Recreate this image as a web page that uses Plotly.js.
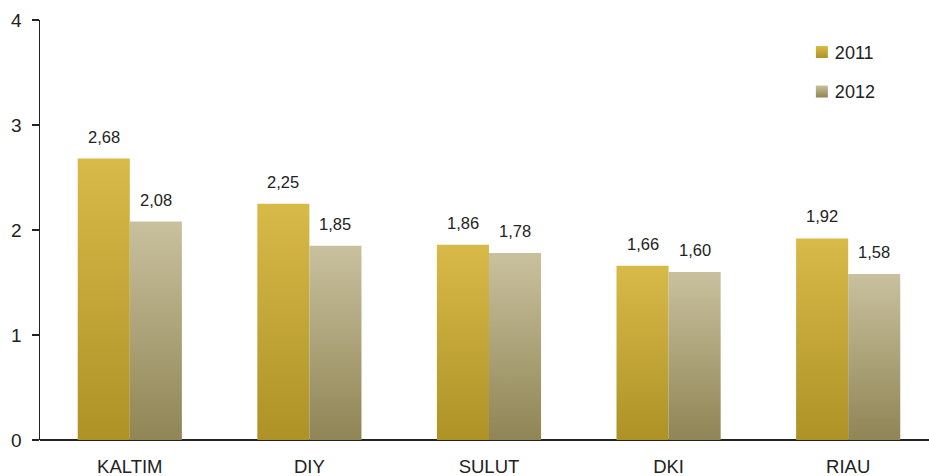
<!DOCTYPE html>
<html>
<head>
<meta charset="utf-8">
<script src="https://cdn.plot.ly/plotly-3.0.1.min.js"></script>
<style>html,body{margin:0;padding:0;background:#fff;}#chart{width:929px;height:476px;}</style>
</head>
<body>
<div id="chart"></div>
<script>
const categories = ['KALTIM', 'DIY', 'SULUT', 'DKI', 'RIAU'];
const values2011 = [2.68, 2.25, 1.86, 1.66, 1.92];
const values2012 = [2.08, 1.85, 1.78, 1.60, 1.58];
const seriesNames = ['2011', '2012'];
const yTicks = [0, 1, 2, 3, 4];

const FONT = 'Liberation Sans, Arial, sans-serif';
const fmt = v => v.toFixed(2).replace('.', ',');

const traces = [
  {type: 'bar', name: seriesNames[0], x: categories, y: values2011, legendgroup: 'a',
   marker: {color: '#c4a63a', line: {width: 0}}, hoverinfo: 'none'},
  {type: 'bar', name: seriesNames[1], x: categories, y: values2012, legendgroup: 'b',
   marker: {color: '#aea47a', line: {width: 0}}, hoverinfo: 'none'}
];

const annotations = [];
[values2011, values2012].forEach((vals, s) => {
  vals.forEach((v, i) => {
    annotations.push({x: categories[i], y: v, xref: 'x', yref: 'y', text: fmt(v),
      showarrow: false, yanchor: 'bottom', xanchor: 'center', xshift: s === 0 ? -26 : 26, yshift: 11,
      font: {family: FONT, size: 16.5, color: '#222'}});
  });
});

const layout = {
  width: 929, height: 476,
  margin: {l: 40, r: 0, t: 20, b: 36},
  paper_bgcolor: '#fff', plot_bgcolor: '#fff',
  barmode: 'group', bargap: 0.42, bargroupgap: 0,
  font: {family: FONT, size: 18, color: '#222'},
  xaxis: {type: 'category', range: [-0.5, 4.45], showgrid: false, zeroline: false,
    showline: false, ticks: '', tickfont: {family: FONT, size: 18.5, color: '#222'},
    ticklabelstandoff: 13, fixedrange: true},
  yaxis: {range: [0, 4], tickvals: yTicks, ticktext: yTicks.map(String), showgrid: false,
    zeroline: true, zerolinecolor: '#222', zerolinewidth: 1.5,
    showline: true, linecolor: '#222', linewidth: 1.5, ticks: 'outside', ticklen: 7,
    tickcolor: '#222', tickwidth: 1.5, tickfont: {family: FONT, size: 19, color: '#222'},
    ticklabelstandoff: 6, fixedrange: true},
  showlegend: true,
  legend: {x: 0.857, y: 0.967, xanchor: 'left', yanchor: 'top', bgcolor: 'rgba(0,0,0,0)',
    font: {family: FONT, size: 18, color: '#222'}, traceorder: 'grouped', tracegroupgap: 13,
    itemwidth: 30},
  annotations: annotations
};

Plotly.newPlot('chart', traces, layout, {staticPlot: true, displayModeBar: false}).then(gd => {
  const svg = gd.querySelector('svg.main-svg');
  const ns = 'http://www.w3.org/2000/svg';
  let defs = svg.querySelector('defs');
  if (!defs) { defs = document.createElementNS(ns, 'defs'); svg.insertBefore(defs, svg.firstChild); }
  const grads = [['g2011', '#d7ba48', '#ae9226'], ['g2012', '#c9c19e', '#8f8555']];
  grads.forEach(([id, c1, c2]) => {
    const g = document.createElementNS(ns, 'linearGradient');
    g.setAttribute('id', id); g.setAttribute('x1', '0'); g.setAttribute('y1', '0');
    g.setAttribute('x2', '0'); g.setAttribute('y2', '1');
    [[0, c1], [1, c2]].forEach(([o, c]) => {
      const st = document.createElementNS(ns, 'stop');
      st.setAttribute('offset', String(o)); st.setAttribute('stop-color', c);
      g.appendChild(st);
    });
    defs.appendChild(g);
  });
  gd.querySelectorAll('.barlayer .trace.bars').forEach((t, i) => {
    t.querySelectorAll('path').forEach(p => { p.style.fill = 'url(#' + grads[i][0] + ')'; });
  });
  gd.querySelectorAll('.legend .traces').forEach((t, i) => {
    t.querySelectorAll('.legendpoints path').forEach(p => { p.style.fill = 'url(#' + grads[i][0] + ')'; });
    const txt = t.querySelector('.legendtext');
    if (txt) txt.setAttribute('x', '33');
  });
});
</script>
</body>
</html>
